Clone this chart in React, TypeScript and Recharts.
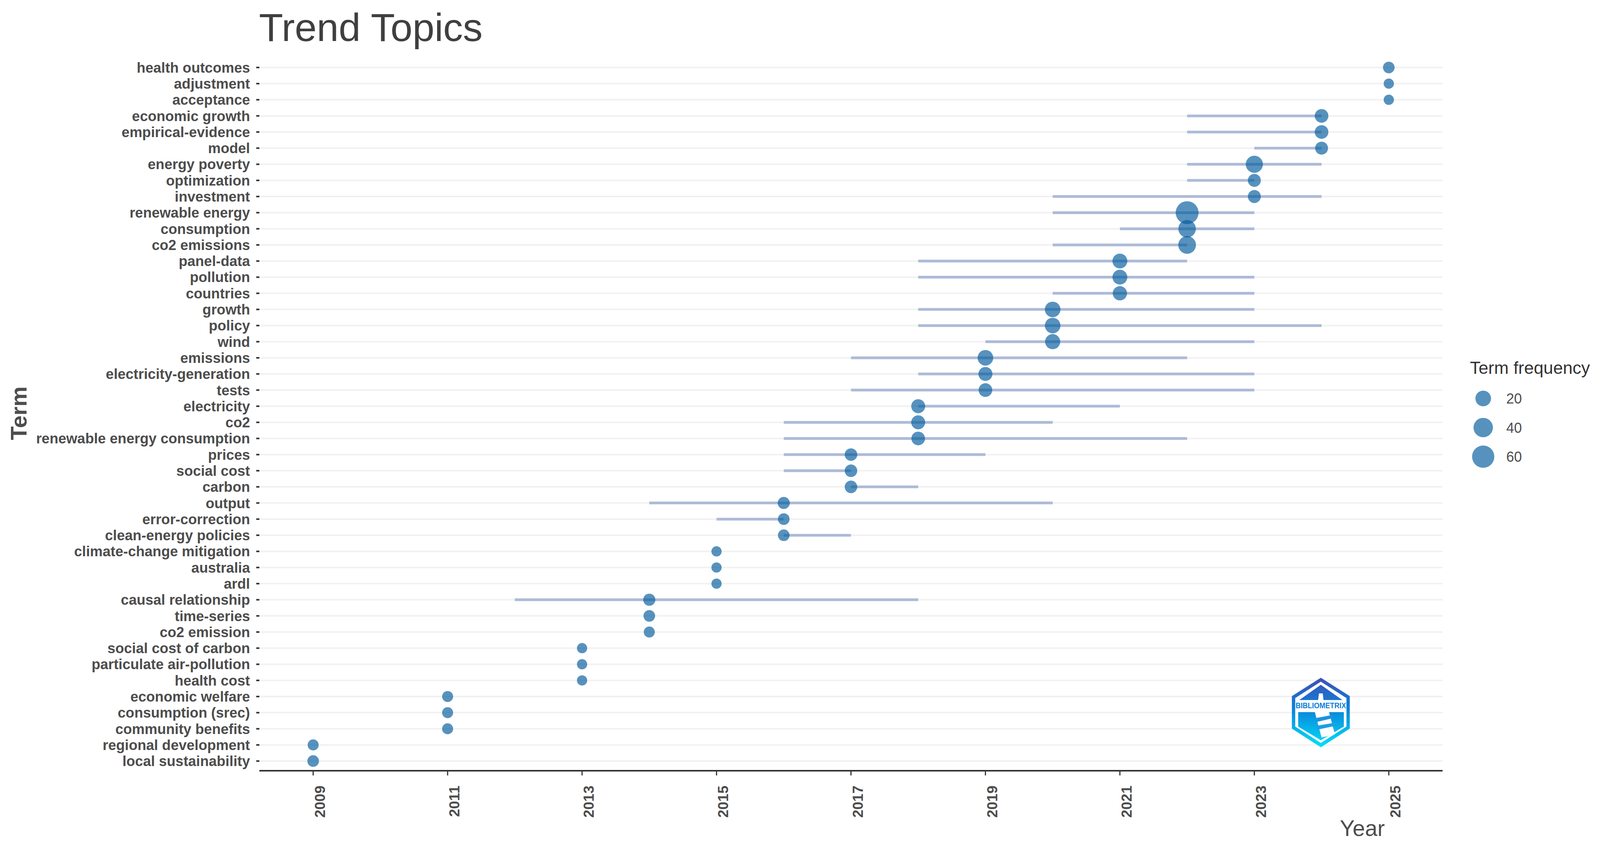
import React from 'react';
import { ScatterChart, Scatter, XAxis, YAxis, CartesianGrid, Label } from 'recharts';

const terms = [
  'health outcomes','adjustment','acceptance','economic growth','empirical-evidence','model','energy poverty','optimization','investment','renewable energy','consumption','co2 emissions','panel-data','pollution','countries','growth','policy','wind','emissions','electricity-generation','tests','electricity','co2','renewable energy consumption','prices','social cost','carbon','output','error-correction','clean-energy policies','climate-change mitigation','australia','ardl','causal relationship','time-series','co2 emission','social cost of carbon','particulate air-pollution','health cost','economic welfare','consumption (srec)','community benefits','regional development','local sustainability',
];
const rangeStart = [2025,2025,2025,2022,2022,2023,2022,2022,2020,2020,2021,2020,2018,2018,2020,2018,2018,2019,2017,2018,2017,2018,2016,2016,2016,2016,2017,2014,2015,2016,2015,2015,2015,2012,2014,2014,2013,2013,2013,2011,2011,2011,2009,2009];
const rangeEnd = [2025,2025,2025,2024,2024,2024,2024,2023,2024,2023,2023,2022,2022,2023,2023,2023,2024,2023,2022,2023,2023,2021,2020,2022,2019,2017,2018,2020,2016,2017,2015,2015,2015,2018,2014,2014,2013,2013,2013,2011,2011,2011,2009,2009];
const medianYear = [2025,2025,2025,2024,2024,2024,2023,2023,2023,2022,2022,2022,2021,2021,2021,2020,2020,2020,2019,2019,2019,2018,2018,2018,2017,2017,2017,2016,2016,2016,2015,2015,2015,2014,2014,2014,2013,2013,2013,2011,2011,2011,2009,2009];
const frequency = [8,6,6,13,13,11,27,11,11,65,29,30,17,17,15,20,20,18,20,14,13,14,14,13,10,10,10,9,8,8,6,6,6,9,8,7,6,6,6,7,7,7,7,8];
const yearTicks = [2009,2011,2013,2015,2017,2019,2021,2023,2025];
const legendValues = [20,40,60];

const WIDTH = 4096;
const HEIGHT = 2158;
const SX = WIDTH / 4310;
const FONT = '"Liberation Sans", Arial, sans-serif';
const POINT = '#00599C';
const POINT_ALPHA = 0.66;

const diameter = (f: number) => 0.975 * (22 + 38 * Math.sqrt(Math.max(f - 5, 0) / 60));

const points = terms.map((t, i) => ({ x: medianYear[i], y: i, freq: frequency[i], term: t }));
const ranges = terms
  .map((t, i) => ({ term: t, seg: [{ x: rangeStart[i], y: i }, { x: rangeEnd[i], y: i }] }))
  .filter((r) => r.seg[0].x !== r.seg[1].x);
const rowTicks = terms.map((_, i) => i);

const Bubble = (p: any) => (
  <circle cx={p.cx} cy={p.cy} r={diameter(p.payload.freq) / 2} fill={POINT} fillOpacity={POINT_ALPHA} />
);
const NoDot = () => <g />;

const YearTick = (p: any) => (
  <text
    x={p.x + 30}
    y={p.y + 24}
    transform={`rotate(-90 ${p.x + 30} ${p.y + 24})`}
    textAnchor="end"
    fontFamily={FONT}
    fontWeight={700}
    fontSize={37}
    fill="#4D4D4D"
  >
    {p.payload.value}
  </text>
);

const Logo = () => (
  <g transform={`scale(${SX},1)`}>
    <defs>
      <linearGradient id="lg" x1="0" y1="1735" x2="0" y2="1913" gradientUnits="userSpaceOnUse">
        <stop offset="0" stopColor="#3F4FB5" />
        <stop offset="0.45" stopColor="#0B84DA" />
        <stop offset="1" stopColor="#00E0F8" />
      </linearGradient>
    </defs>
    <polygon points="3558,1735 3636,1782 3636,1865 3558,1913 3480,1865 3480,1782" fill="url(#lg)" />
    <polygon points="3558,1745 3627,1787 3627,1860 3558,1902 3489,1860 3489,1787" fill="#fff" />
    <polygon points="3558,1753 3616,1792 3500,1792" fill="url(#lg)" />
    <polygon points="3497,1823 3620,1823 3620,1860 3558,1895 3497,1860" fill="url(#lg)" />
    <polygon points="3550,1797 3553,1775 3563,1775 3566,1797" fill="#fff" />
    <polygon points="3540,1816 3578,1816 3596,1880 3560,1888" fill="#fff" />
    <polygon points="3546,1838 3590,1830 3592,1838 3548,1848" fill="#1B93E0" />
    <polygon points="3546,1858 3596,1850 3598,1858 3548,1868" fill="#1B9FE6" />
    <text x="3558" y="1813" textAnchor="middle" fontFamily={FONT} fontWeight={700} fontSize={20} textLength={136} lengthAdjust="spacingAndGlyphs" fill="#0A80D8">BIBLIOMETRIX</text>
  </g>
);

export default function App() {
  return (
    <div style={{ position: 'absolute', left: 0, top: 0, width: WIDTH, height: HEIGHT, background: '#fff', overflow: 'hidden' }}>
      <ScatterChart width={WIDTH} height={HEIGHT} margin={{ top: 148, right: 403, bottom: 0, left: 0 }}>
        <CartesianGrid horizontal vertical={false} horizontalValues={rowTicks} stroke="#F1F1F1" strokeWidth={4} />
        <XAxis
          type="number"
          dataKey="x"
          domain={[2008.2, 2025.8]}
          ticks={yearTicks}
          interval={0}
          height={185}
          tick={YearTick}
          tickSize={12}
          axisLine={{ stroke: '#333', strokeWidth: 4 }}
          tickLine={{ stroke: '#333', strokeWidth: 3 }}
          allowDataOverflow
        >
          <Label value="Year" content={() => (
            <text x={3430} y={2140} fontFamily={FONT} fontSize={57} fill="#4D4D4D">Year</text>
          )} />
        </XAxis>
        <YAxis
          type="number"
          dataKey="y"
          reversed
          domain={[-0.6, 43.6]}
          ticks={rowTicks}
          interval={0}
          width={664}
          tickFormatter={(i: number) => terms[i]}
          tick={{ fill: '#4D4D4D', fontSize: 36.5, fontWeight: 700, fontFamily: FONT }}
          tickSize={8}
          tickMargin={16}
          axisLine={false}
          tickLine={{ stroke: '#333', strokeWidth: 4 }}
          allowDataOverflow
        >
          <Label value="Term" content={() => (
            <text x={68} y={1058} transform="rotate(-90 68 1058)" textAnchor="middle" fontFamily={FONT} fontWeight={700} fontSize={58} fill="#4D4D4D">Term</text>
          )} />
        </YAxis>
        {ranges.map((r) => (
          <Scatter
            key={r.term}
            data={r.seg}
            line={{ stroke: '#AEBBD7', strokeWidth: 7 }}
            shape={NoDot}
            isAnimationActive={false}
          />
        ))}
        <Scatter data={points} shape={Bubble} isAnimationActive={false} />
      </ScatterChart>
      <svg width={WIDTH} height={HEIGHT} style={{ position: 'absolute', left: 0, top: 0, pointerEvents: 'none' }}>
        <text x={663} y={105} fontFamily={FONT} fontSize={101} fill="#3F3F3F">Trend Topics</text>
        <Logo />
        <text x={3763} y={957} fontFamily={FONT} fontSize={44.6} fill="#333">Term frequency</text>
        {legendValues.map((v, i) => (
          <g key={v}>
            <circle cx={3797} cy={1020 + i * 74.5} r={diameter(v) / 2} fill={POINT} fillOpacity={POINT_ALPHA} />
            <text x={3856} y={1033 + i * 74.5} fontFamily={FONT} fontSize={36} fill="#4D4D4D">{v}</text>
          </g>
        ))}
      </svg>
    </div>
  );
}
